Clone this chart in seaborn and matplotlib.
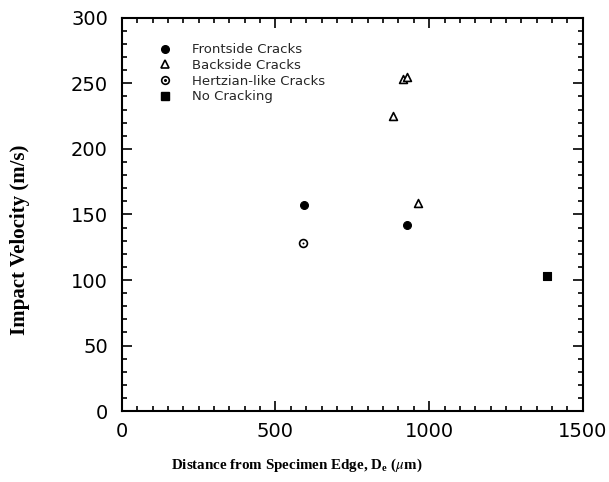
import matplotlib
matplotlib.use("Agg")
import matplotlib.pyplot as plt
import seaborn as sns
import pandas as pd
from matplotlib.ticker import MultipleLocator
from matplotlib.lines import Line2D
from matplotlib.legend_handler import HandlerTuple

sns.set_style("ticks")
plt.rcParams['font.family'] = ['DejaVu Sans']
plt.rcParams['mathtext.fontset'] = 'stix'

categories = ["Frontside Cracks", "Backside Cracks", "Hertzian-like Cracks", "No Cracking"]
front_x = [592, 927]
front_y = [157, 142]
back_x = [881, 916, 927, 964]
back_y = [225, 253, 255, 159]
hertz_x = [590]
hertz_y = [128]
none_x = [1382]
none_y = [103]

fig = plt.figure(figsize=(6.09, 4.82), dpi=100)
ax = fig.add_axes([0.200, 0.147, 0.757, 0.816])

ms = 32
sns.scatterplot(x=front_x, y=front_y, ax=ax, marker='o', color='black', s=ms, edgecolor='black', linewidth=0.8)
sns.scatterplot(x=back_x, y=back_y, ax=ax, marker='^', facecolor='white', edgecolor='black', s=ms, linewidth=1.2)
sns.scatterplot(x=hertz_x, y=hertz_y, ax=ax, marker='o', facecolor='white', edgecolor='black', s=ms, linewidth=1.2)
sns.scatterplot(x=hertz_x, y=hertz_y, ax=ax, marker='o', color='black', s=2, linewidth=0)
sns.scatterplot(x=none_x, y=none_y, ax=ax, marker='s', color='black', s=ms, edgecolor='black', linewidth=0.8)

ax.set_xlim(0, 1500)
ax.set_ylim(0, 300)
ax.xaxis.set_major_locator(MultipleLocator(500))
ax.xaxis.set_minor_locator(MultipleLocator(50))
ax.yaxis.set_major_locator(MultipleLocator(50))
ax.yaxis.set_minor_locator(MultipleLocator(10))
ax.tick_params(which='both', direction='in', top=True, right=True, width=1.2,
               color='black', labelcolor='black')
ax.tick_params(which='major', length=7, labelsize=14)
ax.tick_params(axis='y', which='major', pad=10)
ax.tick_params(axis='x', which='major', pad=8)
ax.tick_params(which='minor', length=3.5)
for s in ax.spines.values():
    s.set_linewidth(1.5)
    s.set_color('black')

ax.set_xlabel(r"Distance from Specimen Edge, D$_\mathregular{e}$ ($\mu$m)",
              family='Liberation Serif', fontweight='bold', fontsize=10.8, color='black')
ax.set_ylabel("Impact Velocity (m/s)", family='Liberation Serif', fontweight='bold',
              fontsize=15, color='black')
ax.xaxis.set_label_coords(0.38, -0.115)
ax.yaxis.set_label_coords(-0.20, 0.435)

h1 = Line2D([], [], marker='o', color='black', ls='', markersize=5.5)
h2 = Line2D([], [], marker='^', mfc='white', mec='black', ls='', markersize=5.5, mew=1.2)
h3a = Line2D([], [], marker='o', mfc='white', mec='black', ls='', markersize=5.5, mew=1.2)
h3b = Line2D([], [], marker='o', color='black', ls='', markersize=1.2)
h4 = Line2D([], [], marker='s', color='black', ls='', markersize=5.5)
leg = ax.legend([h1, h2, (h3a, h3b), h4], categories,
                handler_map={tuple: HandlerTuple(ndivide=1)},
                loc='upper left', bbox_to_anchor=(0.05, 0.965), frameon=False,
                fontsize=9.5, handlelength=1.2, handletextpad=1.5, labelspacing=0.2)

fig.savefig("out.png", dpi=100)
